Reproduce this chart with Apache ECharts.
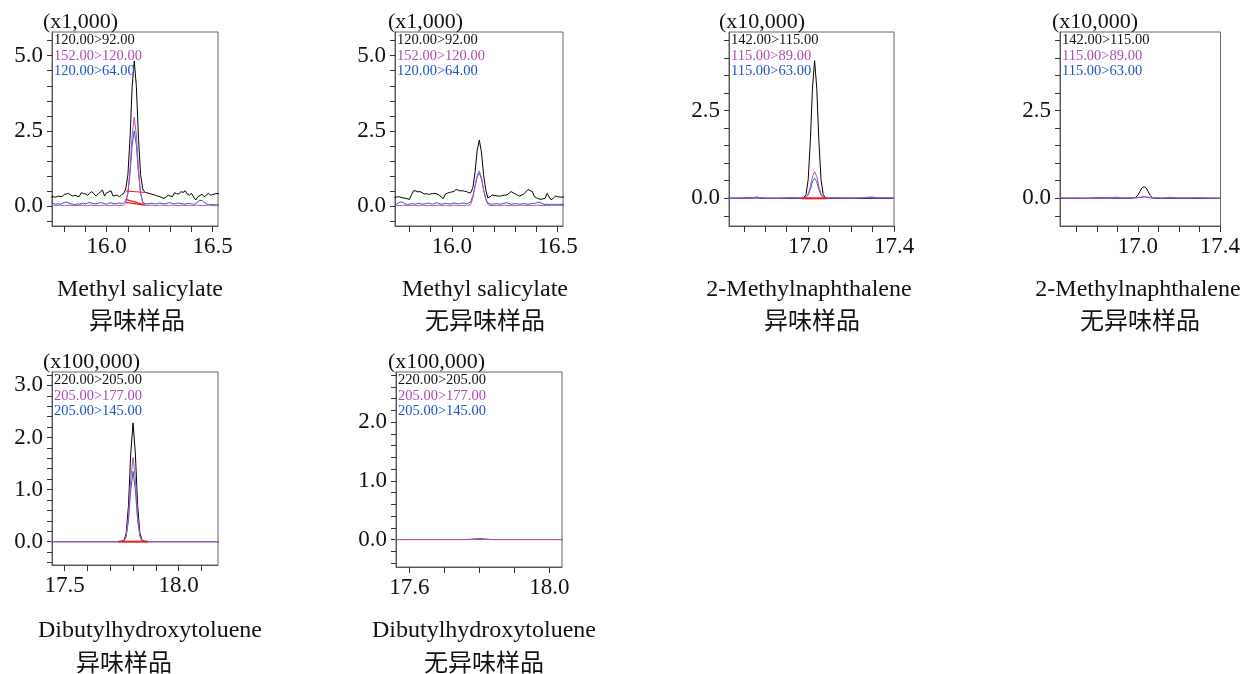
<!DOCTYPE html>
<html>
<head>
<meta charset="utf-8">
<script src="https://cdn.jsdelivr.net/npm/echarts@6/dist/echarts.min.js"></script>
<style>
  html, body { margin: 0; padding: 0; background: #fff; }
  #chart { width: 1243px; height: 674px; }
</style>
</head>
<body>
<div id="chart"></div>
<script>
// ---- MRM chromatogram data (retention time in min, intensity in axis units) ----

// Methyl salicylate: shared acquisition times
const msTimes = [15.73,15.74,15.75,15.76,15.77,15.78,15.79,15.80,15.81,15.82,15.83,15.84,15.85,15.86,15.87,15.88,15.89,
  15.90,15.91,15.92,15.93,15.94,15.95,15.96,15.97,15.98,15.99,16.00,16.01,16.02,16.03,16.04,16.05,16.06,16.07,16.08,
  16.09,16.10,16.11,16.12,16.13,16.14,16.15,16.16,16.17,16.18,
  16.19,16.20,16.21,16.22,16.23,16.24,16.25,16.26,16.27,16.28,16.29,16.30,16.31,16.32,16.33,16.34,16.35,16.36,16.37,
  16.38,16.39,16.40,16.41,16.42,16.43,16.44,16.45,16.46,16.47,16.48,16.49,16.50,16.51,16.52,16.53];

// Methyl salicylate, odour sample (x1,000)
const ms1Black = [0.31,0.30,0.31,0.29,0.33,0.32,0.31,0.39,0.40,0.42,0.37,0.33,0.36,0.33,0.31,0.44,0.42,
  0.40,0.36,0.42,0.48,0.40,0.33,0.40,0.47,0.53,0.33,0.44,0.47,0.51,0.33,0.35,0.36,0.31,0.37,0.42,
  0.57,1.04,2.25,3.97,4.82,3.97,2.25,1.04,0.57,0.45,
  0.44,0.42,0.40,0.38,0.36,0.33,0.31,0.28,0.25,0.30,0.36,0.33,0.31,0.44,0.41,0.40,0.48,0.45,0.51,
  0.40,0.36,0.42,0.30,0.20,0.31,0.35,0.39,0.31,0.36,0.42,0.36,0.38,0.40,0.42,0.40];
const ms1Magenta = [0.03,0.02,0.02,0.01,0.02,0.03,0.02,0.01,0.02,0.02,0.03,0.02,0.01,0.02,0.02,0.03,0.02,
  0.02,0.01,0.02,0.03,0.02,0.02,0.01,0.02,0.02,0.03,0.02,0.01,0.02,0.02,0.03,0.02,0.02,0.02,0.03,
  0.10,0.42,1.22,2.36,2.95,2.36,1.22,0.42,0.10,0.03,
  0.02,0.02,0.03,0.02,0.01,0.02,0.02,0.03,0.02,0.02,0.01,0.02,0.03,0.02,0.02,0.01,0.02,0.03,0.02,
  0.02,0.02,0.01,0.02,0.03,0.02,0.02,0.01,0.02,0.02,0.03,0.02,0.02,0.01,0.02,0.02];
const ms1Blue = [0.13,0.12,0.08,0.06,0.07,0.06,0.08,0.12,0.13,0.10,0.07,0.06,0.05,0.07,0.06,0.08,0.09,
  0.07,0.10,0.12,0.09,0.08,0.07,0.09,0.12,0.10,0.08,0.06,0.09,0.11,0.08,0.07,0.09,0.10,0.08,0.10,
  0.18,0.42,1.08,2.02,2.50,2.02,1.08,0.42,0.14,0.08,
  0.07,0.08,0.09,0.08,0.07,0.08,0.10,0.09,0.07,0.08,0.10,0.11,0.08,0.07,0.09,0.10,0.08,0.07,0.06,
  0.08,0.09,0.07,0.06,0.08,0.14,0.19,0.18,0.12,0.07,0.05,0.04,0.05,0.04,0.03,0.04];
// integration baselines
const ms1BaseBlack = [[16.09, 0.50], [16.185, 0.45]];
const ms1BaseBlue = [[16.09, 0.22], [16.18, 0.04]];
const ms1BaseMagenta = [[16.09, 0.12], [16.18, 0.03]];

// Methyl salicylate, odour-free sample (x1,000)
const ms2Black = [0.28,0.30,0.31,0.29,0.27,0.26,0.24,0.22,0.38,0.51,0.50,0.47,0.48,0.44,0.40,0.41,0.39,
  0.40,0.41,0.42,0.40,0.37,0.30,0.25,0.40,0.43,0.45,0.47,0.48,0.55,0.53,0.50,0.51,0.49,0.48,0.44,
  0.45,0.62,1.14,1.85,2.19,1.80,1.05,0.55,0.27,0.30,
  0.37,0.35,0.34,0.33,0.33,0.35,0.36,0.37,0.42,0.48,0.44,0.40,0.36,0.33,0.36,0.40,0.47,0.55,0.51,
  0.48,0.31,0.27,0.24,0.22,0.24,0.25,0.42,0.30,0.20,0.27,0.33,0.31,0.30,0.29,0.31];
const ms2Magenta = [0.01,0.02,0.01,0.02,0.03,0.02,0.01,0.02,0.01,0.02,0.02,0.01,0.02,0.03,0.02,0.01,0.02,
  0.02,0.01,0.02,0.02,0.03,0.02,0.01,0.02,0.02,0.01,0.02,0.03,0.02,0.02,0.01,0.02,0.02,0.03,0.02,
  0.06,0.28,0.68,1.02,1.17,0.95,0.55,0.22,0.06,0.02,
  0.02,0.01,0.02,0.02,0.01,0.02,0.03,0.02,0.01,0.02,0.02,0.01,0.02,0.02,0.03,0.02,0.01,0.02,0.02,
  0.01,0.02,0.02,0.03,0.02,0.01,0.02,0.02,0.01,0.02,0.02,0.01,0.02,0.02,0.01,0.02];
const ms2Blue = [0.05,0.06,0.10,0.14,0.12,0.07,0.05,0.06,0.08,0.07,0.06,0.09,0.08,0.06,0.07,0.08,0.10,
  0.08,0.06,0.09,0.11,0.08,0.06,0.07,0.09,0.08,0.07,0.08,0.10,0.09,0.07,0.08,0.10,0.09,0.08,0.10,
  0.15,0.35,0.65,0.98,1.10,0.90,0.55,0.25,0.10,0.07,
  0.06,0.07,0.08,0.07,0.06,0.08,0.10,0.11,0.08,0.06,0.07,0.08,0.07,0.06,0.07,0.08,0.07,0.06,0.07,
  0.08,0.09,0.10,0.13,0.11,0.07,0.05,0.06,0.05,0.06,0.05,0.06,0.05,0.06,0.05,0.06];

// 2-Methylnaphthalene, odour sample (x10,000)
const mn1Black = [[16.62,0],[16.70,0],[16.76,0.01],[16.80,0],[16.90,0],[16.96,0],[16.98,0.02],[16.99,0.11],
  [17.00,0.53],[17.01,1.61],[17.02,3.14],[17.03,3.92],[17.04,3.14],[17.05,1.61],[17.06,0.53],[17.07,0.11],
  [17.08,0.02],[17.10,0],[17.20,0],[17.30,0],[17.40,0]];
const mn1Magenta = [[16.62,0.01],[16.66,0],[16.74,0.01],[16.76,0.04],[16.78,0.01],[16.86,0],[16.92,0.02],
  [16.96,0.01],[16.98,0.02],[16.99,0.04],[17.00,0.12],[17.01,0.33],[17.02,0.62],[17.03,0.76],[17.04,0.62],
  [17.05,0.33],[17.06,0.12],[17.07,0.04],[17.08,0.02],[17.12,0.01],[17.20,0],[17.28,0.03],[17.30,0.04],
  [17.32,0.01],[17.38,0.02],[17.40,0.01]];
const mn1Blue = [[16.62,0],[16.76,0.02],[16.80,0],[16.98,0.01],[16.99,0.03],[17.00,0.09],[17.01,0.25],
  [17.02,0.47],[17.03,0.57],[17.04,0.47],[17.05,0.25],[17.06,0.09],[17.07,0.03],[17.08,0.01],[17.25,0.01],
  [17.30,0.02],[17.40,0]];
const mn1Base = [[16.97, 0], [17.09, 0]];

// 2-Methylnaphthalene, odour-free sample (x10,000)
const mn2Black = [[16.62,0],[16.75,0],[16.80,0.01],[16.90,0.01],[16.95,0],[16.98,0.01],[16.99,0.03],
  [17.00,0.10],[17.01,0.20],[17.02,0.30],[17.03,0.33],[17.04,0.29],[17.05,0.19],[17.06,0.08],[17.07,0.02],
  [17.08,0],[17.20,0],[17.40,0]];
const mn2Magenta = [[16.62,0.01],[16.80,0],[16.90,0.03],[16.93,0.01],[17.00,0.02],[17.03,0.05],[17.06,0.02],
  [17.12,0.01],[17.16,0.03],[17.20,0.01],[17.28,0.02],[17.40,0]];
const mn2Blue = [[16.62,0],[16.95,0],[17.01,0.02],[17.03,0.04],[17.05,0.02],[17.10,0],[17.40,0]];

// Dibutylhydroxytoluene, odour sample (x100,000)
const bht1Black = [[17.44,0],[17.74,0],[17.76,0.02],[17.77,0.16],[17.78,0.70],[17.79,1.70],[17.80,2.28],
  [17.81,1.70],[17.82,0.70],[17.83,0.16],[17.84,0.02],[17.86,0],[18.18,0]];
const bht1Magenta = [[17.44,0],[17.74,0],[17.76,0.01],[17.77,0.11],[17.78,0.50],[17.79,1.21],[17.80,1.62],
  [17.81,1.21],[17.82,0.50],[17.83,0.11],[17.84,0.01],[17.86,0],[18.18,0]];
const bht1Blue = [[17.44,0],[17.74,0],[17.76,0.01],[17.77,0.10],[17.78,0.41],[17.79,1.00],[17.80,1.35],
  [17.81,1.00],[17.82,0.41],[17.83,0.10],[17.84,0.01],[17.86,0],[18.18,0]];
const bht1Base = [[17.735, 0], [17.865, 0]];

// Dibutylhydroxytoluene, odour-free sample (x100,000)
const bht2Black = [[17.56,0],[17.76,0],[17.78,0.005],[17.80,0.012],[17.82,0.005],[17.84,0],[18.04,0]];
const bht2Magenta = [[17.56,0],[17.77,0],[17.80,0.006],[17.83,0],[18.04,0]];
const bht2Blue = [[17.56,0],[17.77,0],[17.80,0.004],[17.83,0],[18.04,0]];

// ---- axis ticks and labels ----
const msXTicks = [15.8,15.9,16.0,16.1,16.2,16.3,16.4,16.5];
const msXLabels = [16.0,16.5];
const msYTicks = [-0.5,0,0.5,1,1.5,2,2.5,3,3.5,4,4.5,5,5.5];
const msYLabels = [0,2.5,5];
const mnXTicks = [16.7,16.8,16.9,17.0,17.1,17.2,17.3,17.4];
const mnXLabels = [17.0,17.4];
const mnYTicks = [-0.5,0,0.5,1,1.5,2,2.5,3,3.5,4,4.5];
const mnYLabels = [0,2.5];
const bht1XTicks = [17.5,17.6,17.7,17.8,17.9,18.0,18.1];
const bht1XLabels = [17.5,18.0];
const bht1YTicks = [-0.4,-0.2,0,0.2,0.4,0.6,0.8,1,1.2,1.4,1.6,1.8,2,2.2,2.4,2.6,2.8,3,3.2];
const bht1YLabels = [0,1,2,3];
const bht2XTicks = [17.6,17.7,17.8,17.9,18.0];
const bht2XLabels = [17.6,18.0];
const bht2YTicks = [-0.4,-0.2,0,0.2,0.4,0.6,0.8,1,1.2,1.4,1.6,1.8,2,2.2,2.4,2.6,2.8];
const bht2YLabels = [0,1,2];

// ---- text ----
const msTransitions = ['120.00>92.00', '152.00>120.00', '120.00>64.00'];
const mnTransitions = ['142.00>115.00', '115.00>89.00', '115.00>63.00'];
const bhtTransitions = ['220.00>205.00', '205.00>177.00', '205.00>145.00'];
const scaleMS = '(x1,000)';
const scaleMN = '(x10,000)';
const scaleBHT = '(x100,000)';
const nameMS = 'Methyl salicylate';
const nameMN = '2-Methylnaphthalene';
const nameBHT = 'Dibutylhydroxytoluene';
const sampleOdour = '异味样品';
const sampleClean = '无异味样品';

// ---- styling ----
const TRACE_COLORS = ['#000000', '#2a58c4', '#b850b8'];   // black, blue, magenta draw order
const TEXT_COLORS = ['#111111', '#b04cb0', '#1f55c0'];    // legend order: black, magenta, blue
const BASE_COLOR = '#f01c1c';
const SERIF = '"Liberation Serif", "Times New Roman", serif';
const CJK = '"Noto Sans CJK SC", sans-serif';

const zip = (t, v) => t.map((x, i) => [x, v[i]]);

const panels = [
  { grid: { left: 52, top: 32, width: 166, height: 194 },
    x: { min: 15.742, max: 16.525, ticks: msXTicks, labels: msXLabels },
    y: { min: -0.665, max: 5.788, ticks: msYTicks, labels: msYLabels },
    scale: scaleMS, scaleX: 43, transitions: msTransitions,
    traces: [zip(msTimes, ms1Black), zip(msTimes, ms1Blue), zip(msTimes, ms1Magenta)],
    bases: [ms1BaseBlack, ms1BaseBlue, ms1BaseMagenta],
    title: [nameMS, sampleOdour], titleX: [140, 137] },
  { grid: { left: 395, top: 32, width: 168, height: 194 },
    x: { min: 15.732, max: 16.525, ticks: msXTicks, labels: msXLabels },
    y: { min: -0.665, max: 5.788, ticks: msYTicks, labels: msYLabels },
    scale: scaleMS, scaleX: 388, transitions: msTransitions,
    traces: [zip(msTimes, ms2Black), zip(msTimes, ms2Blue), zip(msTimes, ms2Magenta)],
    bases: [],
    title: [nameMS, sampleClean], titleX: [485, 485] },
  { grid: { left: 729, top: 32, width: 165, height: 194 },
    x: { min: 16.631, max: 17.4, ticks: mnXTicks, labels: mnXLabels },
    y: { min: -0.79, max: 4.74, ticks: mnYTicks, labels: mnYLabels },
    scale: scaleMN, scaleX: 719, transitions: mnTransitions,
    traces: [mn1Black, mn1Blue, mn1Magenta],
    bases: [mn1Base],
    title: [nameMN, sampleOdour], titleX: [809, 812] },
  { grid: { left: 1060, top: 32, width: 167, height: 194 },
    x: { min: 16.619, max: 17.403, ticks: mnXTicks, labels: mnXLabels },
    y: { min: -0.79, max: 4.74, ticks: mnYTicks, labels: mnYLabels },
    scale: scaleMN, scaleX: 1052, transitions: mnTransitions,
    traces: [mn2Black, mn2Blue, mn2Magenta],
    bases: [],
    title: [nameMN, sampleClean], titleX: [1138, 1140] },
  { grid: { left: 52, top: 372, width: 166, height: 193 },
    x: { min: 17.445, max: 18.172, ticks: bht1XTicks, labels: bht1XLabels },
    y: { min: -0.448, max: 3.257, ticks: bht1YTicks, labels: bht1YLabels },
    scale: scaleBHT, scaleX: 43, transitions: bhtTransitions,
    traces: [bht1Black, bht1Blue, bht1Magenta],
    bases: [bht1Base],
    title: [nameBHT, sampleOdour], titleX: [150, 124] },
  { grid: { left: 396, top: 372, width: 166, height: 195 },
    x: { min: 17.562, max: 18.036, ticks: bht2XTicks, labels: bht2XLabels },
    y: { min: -0.468, max: 2.855, ticks: bht2YTicks, labels: bht2YLabels },
    scale: scaleBHT, scaleX: 388, transitions: bhtTransitions,
    traces: [bht2Black, bht2Blue, bht2Magenta],
    bases: [],
    title: [nameBHT, sampleClean], titleX: [484, 484] }
];

const grids = [], xAxes = [], yAxes = [], series = [], graphics = [];

const axisLineStyle = { color: '#555', width: 1 };
const tickStyle = { color: '#333', width: 1 };

panels.forEach((p, i) => {
  grids.push(Object.assign({ show: true, borderColor: '#666', borderWidth: 1, backgroundColor: 'transparent' }, p.grid));

  xAxes.push({
    type: 'value', gridIndex: i, min: p.x.min, max: p.x.max,
    axisLine: { show: true, onZero: false, lineStyle: axisLineStyle },
    axisTick: { show: true, inside: false, length: 6, customValues: p.x.ticks, lineStyle: tickStyle },
    axisLabel: { show: true, customValues: p.x.labels, margin: 9, fontFamily: SERIF, fontSize: 23, color: '#111',
                 formatter: v => v.toFixed(1) },
    splitLine: { show: false }
  });
  yAxes.push({
    type: 'value', gridIndex: i, min: p.y.min, max: p.y.max,
    axisLine: { show: true, onZero: false, lineStyle: axisLineStyle },
    axisTick: { show: true, inside: false, length: 5, customValues: p.y.ticks, lineStyle: tickStyle },
    axisLabel: { show: true, customValues: p.y.labels, margin: 9, fontFamily: SERIF, fontSize: 23, color: '#111',
                 formatter: v => v.toFixed(1) },
    splitLine: { show: false }
  });

  // transitions: black, blue, magenta traces (legend lists black, magenta, blue)
  const traceNames = [p.transitions[0], p.transitions[2], p.transitions[1]];
  p.traces.forEach((d, k) => {
    series.push({
      type: 'line', name: traceNames[k], xAxisIndex: i, yAxisIndex: i, data: d,
      showSymbol: false, symbol: 'none', clip: true, silent: true,
      lineStyle: { width: 1, color: TRACE_COLORS[k] }, z: 2 + k
    });
  });
  p.bases.forEach(d => {
    series.push({
      type: 'line', name: 'baseline', xAxisIndex: i, yAxisIndex: i, data: d,
      showSymbol: false, symbol: 'none', clip: true, silent: true,
      lineStyle: { width: p.bases.length === 1 ? 2 : 1.2, color: BASE_COLOR }, z: 6
    });
  });

  // intensity multiplier above the y axis
  graphics.push({
    type: 'text', x: p.scaleX, y: p.grid.top - 10, silent: true,
    style: { text: p.scale, font: '22px ' + SERIF, fill: '#111', align: 'left', verticalAlign: 'middle' }
  });
  // transition list in the top-left corner of the plot
  p.transitions.forEach((t, k) => {
    graphics.push({
      type: 'text', x: p.grid.left + 2, y: p.grid.top + 8.5 + k * 15.5, silent: true, z: 10,
      style: { text: t, font: '14.5px ' + SERIF, fill: TEXT_COLORS[k], align: 'left', verticalAlign: 'middle' }
    });
  });
  // compound name and sample type
  const rowY = p.grid.top < 100 ? [290, 320] : [631, 662];
  graphics.push({
    type: 'text', x: p.titleX[0], y: rowY[0], silent: true,
    style: { text: p.title[0], font: '24px ' + SERIF, fill: '#111', align: 'center', verticalAlign: 'middle' }
  });
  graphics.push({
    type: 'text', x: p.titleX[1], y: rowY[1], silent: true,
    style: { text: p.title[1], font: '24px ' + CJK, fill: '#111', align: 'center', verticalAlign: 'middle' }
  });
});

const chart = echarts.init(document.getElementById('chart'), null, { renderer: 'canvas' });
chart.setOption({
  backgroundColor: '#ffffff',
  animation: false,
  grid: grids,
  xAxis: xAxes,
  yAxis: yAxes,
  series: series,
  graphic: graphics
});
</script>
</body>
</html>
